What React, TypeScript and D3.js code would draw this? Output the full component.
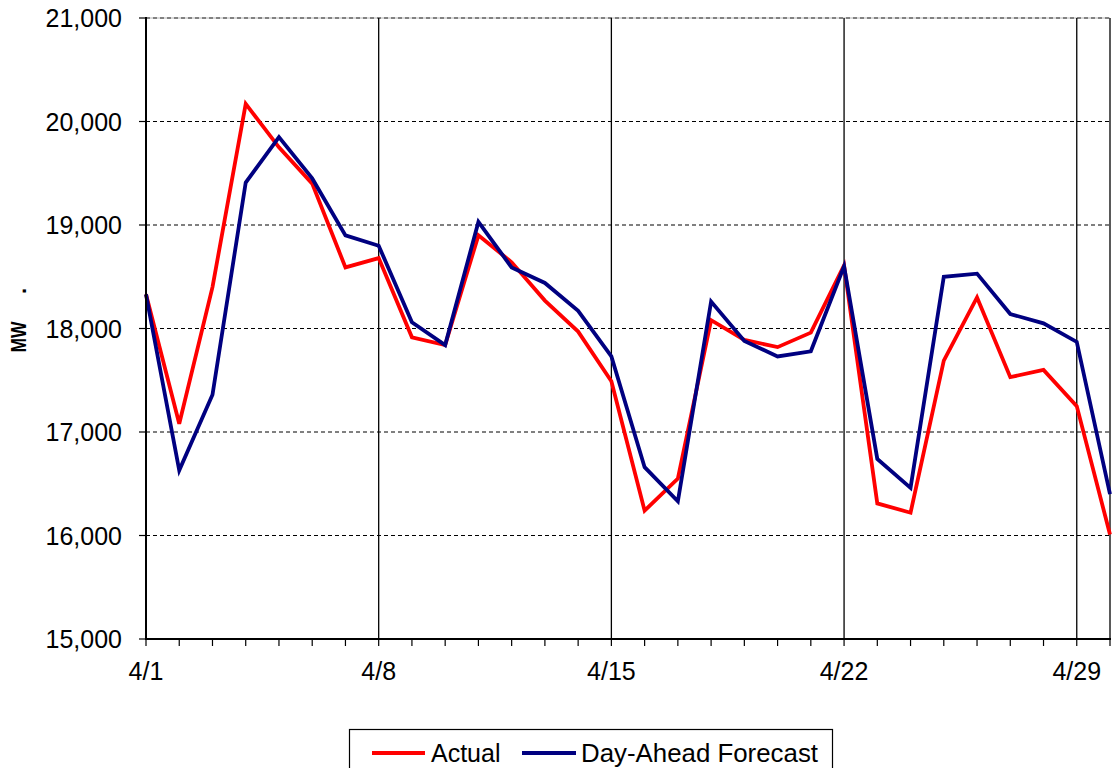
import React from "react";
import * as d3 from "d3";

const days: number[] = Array.from({ length: 30 }, (_, i) => i + 1);
const actual: number[] = [18330, 17080, 18400, 20170, 19750, 19400, 18590, 18680, 17915, 17840, 18900, 18640, 18270, 17970, 17490, 16240, 16550, 18080, 17890, 17820, 17960, 18610, 16310, 16220, 17690, 18300, 17530, 17600, 17250, 16010];
const forecast: number[] = [18330, 16630, 17360, 19410, 19850, 19450, 18900, 18800, 18060, 17840, 19030, 18590, 18440, 18170, 17730, 16660, 16330, 18260, 17880, 17730, 17780, 18600, 16740, 16460, 18500, 18530, 18140, 18050, 17870, 16400];
const yTicks: number[] = [15000, 16000, 17000, 18000, 19000, 20000, 21000];
const xLabelDays: number[] = [1, 8, 15, 22, 29];
const xLabels: string[] = ["4/1", "4/8", "4/15", "4/22", "4/29"];
const seriesNames: string[] = ["Actual", "Day-Ahead Forecast"];
const seriesColors: string[] = ["#FF0000", "#000080"];
const yTitle: string = "MW";

const W = 1120;
const H = 768;
const left = 146;
const right = 1110;
const top = 18;
const bottom = 639;
const FONT = "'Liberation Sans', Arial, sans-serif";

export default function App() {
  const x = d3.scaleLinear().domain([1, 30]).range([left, right]);
  const y = d3.scaleLinear().domain([15000, 21000]).range([bottom, top]);
  const line = d3
    .line<number>()
    .x((_, i) => x(days[i]))
    .y((v) => y(v));
  const series = [actual, forecast];
  const fmt = d3.format(",");

  return (
    <svg
      width={W}
      height={H}
      style={{ position: "absolute", left: 0, top: 0, display: "block", background: "#fff" }}
      fontFamily={FONT}
    >
      <rect x={0} y={0} width={W} height={H} fill="#fff" />
      {yTicks.filter((t) => t > 15000).map((t) => (
        <line key={"g" + t} x1={left} x2={right} y1={y(t)} y2={y(t)} stroke="#000" strokeWidth={1} strokeDasharray="4,3" />
      ))}
      <line x1={left} x2={right} y1={y(21000)} y2={y(21000)} stroke="#888" strokeWidth={1} opacity={0.6} />
      {xLabelDays.filter((d) => d > 1).map((d) => (
        <line key={"v" + d} x1={x(d)} x2={x(d)} y1={top} y2={bottom} stroke="#000" strokeWidth={1.3} />
      ))}
      <line x1={right} x2={right} y1={top} y2={bottom} stroke="#000" strokeWidth={1.3} />
      {series.map((s, i) => (
        <path key={"s" + i} d={line(s) || ""} fill="none" stroke={seriesColors[i]} strokeWidth={3.8} strokeLinejoin="miter" />
      ))}
      <line x1={left} x2={left} y1={top - 1} y2={bottom + 1} stroke="#000" strokeWidth={2} />
      <line x1={left - 1} x2={right + 1} y1={bottom} y2={bottom} stroke="#000" strokeWidth={2} />
      {yTicks.map((t) => (
        <g key={"yt" + t}>
          <line x1={left - 7} x2={left} y1={y(t)} y2={y(t)} stroke="#000" strokeWidth={1.2} />
          <text x={122} y={y(t)} dy="0.36em" textAnchor="end" fontSize={25} fill="#000">
            {fmt(t)}
          </text>
        </g>
      ))}
      {days.map((d) => (
        <line key={"xt" + d} x1={x(d)} x2={x(d)} y1={bottom} y2={bottom + 7} stroke="#000" strokeWidth={1.2} />
      ))}
      {xLabelDays.map((d, i) => (
        <text key={"xl" + d} x={x(d)} y={680} textAnchor="middle" fontSize={25} fill="#000">
          {xLabels[i]}
        </text>
      ))}
      <g transform="translate(26,337) rotate(-90)">
        <text x={0} y={0} textAnchor="middle" fontSize={22} fontWeight="bold" fill="#000" textLength={31} lengthAdjust="spacingAndGlyphs">
          {yTitle}
        </text>
        <text x={46} y={0} textAnchor="middle" fontSize={22} fontWeight="bold" fill="#000">
          .
        </text>
      </g>
      <rect x={349.5} y={729.5} width={483} height={50} fill="#fff" stroke="#000" strokeWidth={1.2} />
      <line x1={372} x2={425} y1={753} y2={753} stroke={seriesColors[0]} strokeWidth={3.8} />
      <text x={431} y={762} fontSize={25} fill="#000">{seriesNames[0]}</text>
      <line x1={522} x2={576} y1={753} y2={753} stroke={seriesColors[1]} strokeWidth={3.8} />
      <text x={581} y={762} fontSize={25} fill="#000" textLength={237} lengthAdjust="spacingAndGlyphs">{seriesNames[1]}</text>
    </svg>
  );
}
